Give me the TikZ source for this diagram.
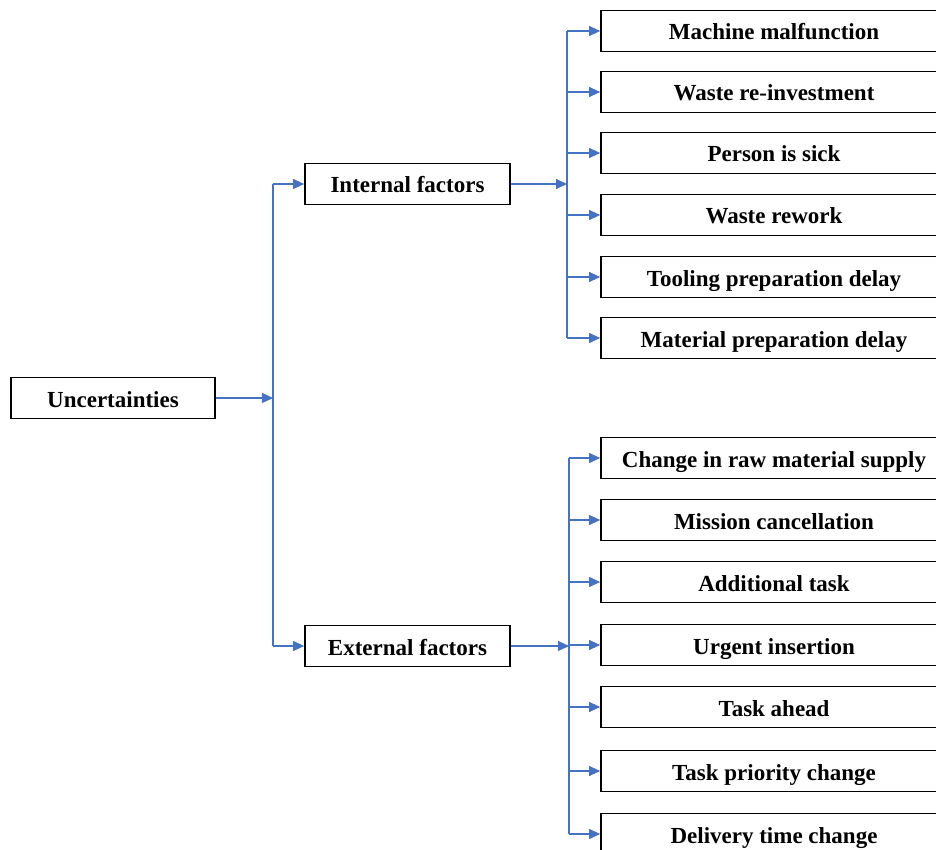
\documentclass[tikz,border=0pt]{standalone}
\usepackage{fontspec}
\setmainfont{Liberation Serif}
\usetikzlibrary{arrows.meta}
\definecolor{linkblue}{HTML}{4472C4}
\begin{document}
\begin{tikzpicture}[x=1pt,y=-1pt,
  box/.style={draw=black,line width=1.7pt,minimum height=41pt,inner sep=0pt,
    text height=20pt,text depth=2pt,
    font=\fontsize{23}{26}\selectfont\bfseries},
  rootbox/.style={box,minimum width=204pt},
  midbox/.style={box,minimum width=205pt},
  leafbox/.style={box,minimum width=346pt},
  link/.style={draw=linkblue,line width=1.1pt,-{Triangle[length=11pt,width=10pt]}},
  trunk/.style={draw=linkblue,line width=1.1pt}]
\useasboundingbox (0,0) rectangle (936,850);
\clip (0,0) rectangle (936,850);

% root and second level
\node[rootbox] (unc) at (113,398) {Uncertainties};
\node[midbox] (int) at (407.5,184) {Internal factors};
\node[midbox] (ext) at (407.5,646) {External factors};

% leaves: internal factors
\node[leafbox] (i1) at (774,31) {Machine malfunction};
\node[leafbox] (i2) at (774,92) {Waste re-investment};
\node[leafbox] (i3) at (774,153) {Person is sick};
\node[leafbox] (i4) at (774,215) {Waste rework};
\node[leafbox] (i5) at (774,277) {Tooling preparation delay};
\node[leafbox] (i6) at (774,338) {Material preparation delay};

% leaves: external factors
\node[leafbox] (e1) at (774,458) {Change in raw material supply};
\node[leafbox] (e2) at (774,520) {Mission cancellation};
\node[leafbox] (e3) at (774,582) {Additional task};
\node[leafbox] (e4) at (774,645) {Urgent insertion};
\node[leafbox] (e5) at (774,707) {Task ahead};
\node[leafbox] (e6) at (774,771) {Task priority change};
\node[leafbox] (e7) at (774,834) {Delivery time change};

% branch points
\coordinate (j0) at (273,398);
\coordinate (ji) at (567,184);
\coordinate (je) at (569,646);

% root to second level
\draw[link] (unc.east) -- (j0);
\draw[trunk] (j0 |- int) -- (j0 |- ext);
\draw[link] (j0 |- int) -- (int.west);
\draw[link] (j0 |- ext) -- (ext.west);

% internal branch
\draw[link] (int.east) -- (ji);
\draw[trunk] (ji |- i1) -- (ji |- i6);
\foreach \n in {i1,i2,i3,i4,i5,i6}
  \draw[link] (ji |- \n.west) -- (\n.west);

% external branch
\draw[link] (ext.east) -- (je);
\draw[trunk] (je |- e1) -- (je |- e7);
\foreach \n in {e1,e2,e3,e4,e5,e6,e7}
  \draw[link] (je |- \n.west) -- (\n.west);
\end{tikzpicture}
\end{document}
